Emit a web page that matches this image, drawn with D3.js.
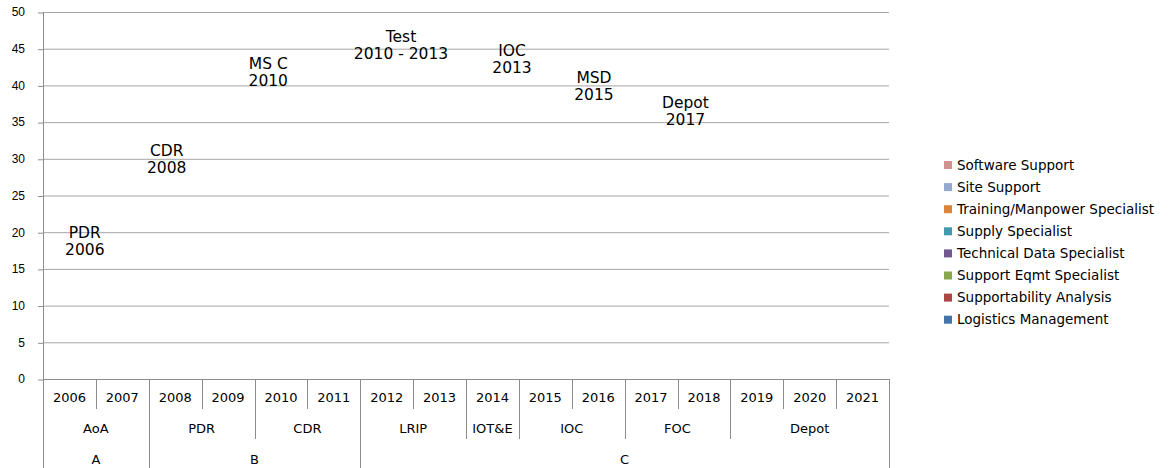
<!DOCTYPE html>
<html>
<head>
<meta charset="utf-8">
<script src="https://cdn.jsdelivr.net/npm/d3@7"></script>
<style>
  body { margin: 0; background: #fff; }
  svg { font-family: "DejaVu Sans", sans-serif; }
</style>
</head>
<body>
<div id="canvas"></div>
<script>
// data
var years = ['2006','2007','2008','2009','2010','2011','2012','2013','2014','2015','2016','2017','2018','2019','2020','2021'];
var phases = ['AoA','AoA','PDR','PDR','CDR','CDR','LRIP','LRIP','IOT&E','IOC','IOC','FOC','FOC','Depot','Depot','Depot'];
var milestonesAB = ['A','A','B','B','B','B','C','C','C','C','C','C','C','C','C','C'];

var seriesNames = ['Logistics Management','Supportability Analysis','Support Eqmt Specialist','Technical Data Specialist',
                   'Supply Specialist','Training/Manpower Specialist','Site Support','Software Support'];
var logisticsMgmt   = [0,0,0,0,0,0,0,0,0,0,0,0,0,0,0,0];
var supportability  = [0,0,0,0,0,0,0,0,0,0,0,0,0,0,0,0];
var supportEqmt     = [0,0,0,0,0,0,0,0,0,0,0,0,0,0,0,0];
var techData        = [0,0,0,0,0,0,0,0,0,0,0,0,0,0,0,0];
var supply          = [0,0,0,0,0,0,0,0,0,0,0,0,0,0,0,0];
var training        = [0,0,0,0,0,0,0,0,0,0,0,0,0,0,0,0];
var siteSupport     = [0,0,0,0,0,0,0,0,0,0,0,0,0,0,0,0];
var softwareSupport = [0,0,0,0,0,0,0,0,0,0,0,0,0,0,0,0];
var seriesValues = [logisticsMgmt, supportability, supportEqmt, techData, supply, training, siteSupport, softwareSupport];
var seriesColors = ['#4572a7','#aa4643','#89a54e','#71588f','#4198af','#db843d','#93a9cf','#d19392'];

var yTicks = [0,5,10,15,20,25,30,35,40,45,50];

// milestone call-outs: name, date, position in year units, value
var noteNames = ['PDR','CDR','MS C','Test','IOC','MSD','Depot'];
var noteDates = ['2006','2008','2010','2010 - 2013','2013','2015','2017'];
var noteYear  = [0.79, 2.34, 4.26, 6.77, 8.87, 10.42, 12.15];
var noteValue = [20.0, 31.1, 43.0, 46.7, 44.7, 41.1, 37.6];

// margins
var m = {t:12, l:43, r:281, b:89};
var W = 1170, H = 468;
var w = W - m.l - m.r, h = H - m.t - m.b;

var svg = d3.select('#canvas').append('svg')
    .attr('width', W).attr('height', H);
var plot = svg.append('g')
    .attr('transform', 'translate(' + m.l + ',' + m.t + ')');

var scaleX = d3.scaleBand().domain(years).range([0, w]);
var scaleY = d3.scaleLinear().domain([0, 50]).range([h, 0]);
var scaleN = d3.scaleLinear().domain([0, years.length]).range([0, w]);

// gridlines
plot.selectAll('.grid').data(yTicks.slice(1))
    .enter().append('line')
    .attr('class', 'grid')
    .attr('x1', 0).attr('x2', w)
    .attr('y1', function(d){ return scaleY(d) + 0.5; })
    .attr('y2', function(d){ return scaleY(d) + 0.5; })
    .style('stroke', '#a6a6a6');

// y axis
var axisY = d3.axisLeft(scaleY).tickValues(yTicks).tickSize(5).tickPadding(13);
var gy = plot.append('g').attr('class', 'axis-y').call(axisY);
gy.select('.domain').remove();
gy.selectAll('line').style('stroke', '#8c8c8c').attr('transform', 'translate(0,0.5)');
gy.selectAll('text').style('font-size', '12px').style('fill', '#000');

// stacked bars (all zero)
var rows = years.map(function(y, i){
    var r = {year: y};
    seriesNames.forEach(function(s, j){ r[s] = seriesValues[j][i]; });
    return r;
});
var stacked = d3.stack().keys(seriesNames)(rows);
plot.selectAll('.series').data(stacked)
    .enter().append('g')
    .attr('class', 'series')
    .style('fill', function(d, i){ return seriesColors[i]; })
    .selectAll('rect').data(function(d){ return d; })
    .enter().append('rect')
    .attr('x', function(d){ return scaleX(d.data.year) + scaleX.bandwidth() * 0.2; })
    .attr('width', scaleX.bandwidth() * 0.6)
    .attr('y', function(d){ return scaleY(d[1]); })
    .attr('height', function(d){ return scaleY(d[0]) - scaleY(d[1]); });

// axis lines
plot.append('line')
    .attr('x1', 0.5).attr('x2', 0.5).attr('y1', 0).attr('y2', H - m.t)
    .style('stroke', '#8c8c8c');
plot.append('line')
    .attr('x1', 0).attr('x2', w).attr('y1', h + 0.5).attr('y2', h + 0.5)
    .style('stroke', '#8c8c8c');

// multi-level category axis
var rowH = 30;
var dividers = d3.range(1, years.length + 1).map(function(i){
    var depth = 1;
    if (i == years.length || milestonesAB[i] != milestonesAB[i-1]) depth = 3;
    else if (phases[i] != phases[i-1]) depth = 2;
    return {i: i, depth: depth};
});
plot.selectAll('.divider').data(dividers)
    .enter().append('line')
    .attr('class', 'divider')
    .attr('x1', function(d){ return Math.round(scaleN(d.i)) + 0.5; })
    .attr('x2', function(d){ return Math.round(scaleN(d.i)) + 0.5; })
    .attr('y1', h)
    .attr('y2', function(d){ return d.depth == 3 ? H - m.t : h + d.depth * rowH; })
    .style('stroke', '#8c8c8c');

function groups(arr){
    var out = [];
    arr.forEach(function(v, i){
        if (i > 0 && arr[i-1] == v) out[out.length-1].end = i + 1;
        else out.push({label: v, start: i, end: i + 1});
    });
    return out;
}

var catText = plot.append('g').style('font-size', '13px').attr('text-anchor', 'middle');
catText.selectAll('.yr').data(years)
    .enter().append('text')
    .attr('x', function(d){ return scaleX(d) + scaleX.bandwidth() / 2; })
    .attr('y', h + 18).attr('dy', '0.35em')
    .text(function(d){ return d; });
catText.selectAll('.ph').data(groups(phases))
    .enter().append('text')
    .attr('x', function(d){ return scaleN((d.start + d.end) / 2); })
    .attr('y', h + 49).attr('dy', '0.35em')
    .text(function(d){ return d.label; });
catText.selectAll('.ms').data(groups(milestonesAB))
    .enter().append('text')
    .attr('x', function(d){ return scaleN((d.start + d.end) / 2); })
    .attr('y', h + 80).attr('dy', '0.35em')
    .text(function(d){ return d.label; });

// milestone call-outs
var notes = plot.selectAll('.note').data(noteNames)
    .enter().append('text')
    .attr('class', 'note')
    .attr('text-anchor', 'middle')
    .style('font-size', '15.5px')
    .attr('transform', function(d, i){
        return 'translate(' + scaleN(noteYear[i]) + ',' + scaleY(noteValue[i]) + ')';
    });
notes.append('tspan').attr('x', 0).attr('dy', '0.35em').text(function(d){ return d; });
notes.append('tspan').attr('x', 0).attr('dy', 17).text(function(d, i){ return noteDates[i]; });

// legend (reverse order like the stack)
var legend = svg.append('g').attr('transform', 'translate(944,165)');
var items = legend.selectAll('.item').data(seriesNames.slice().reverse())
    .enter().append('g')
    .attr('class', 'item')
    .attr('transform', function(d, i){ return 'translate(0,' + (i * 22.1) + ')'; });
items.append('rect')
    .attr('x', 0).attr('y', -4).attr('width', 8).attr('height', 8)
    .style('fill', function(d, i){ return seriesColors[seriesNames.length - 1 - i]; });
items.append('text')
    .attr('x', 13).attr('dy', '0.35em')
    .style('font-size', '13.5px')
    .text(function(d){ return d; });
</script>
</body>
</html>
